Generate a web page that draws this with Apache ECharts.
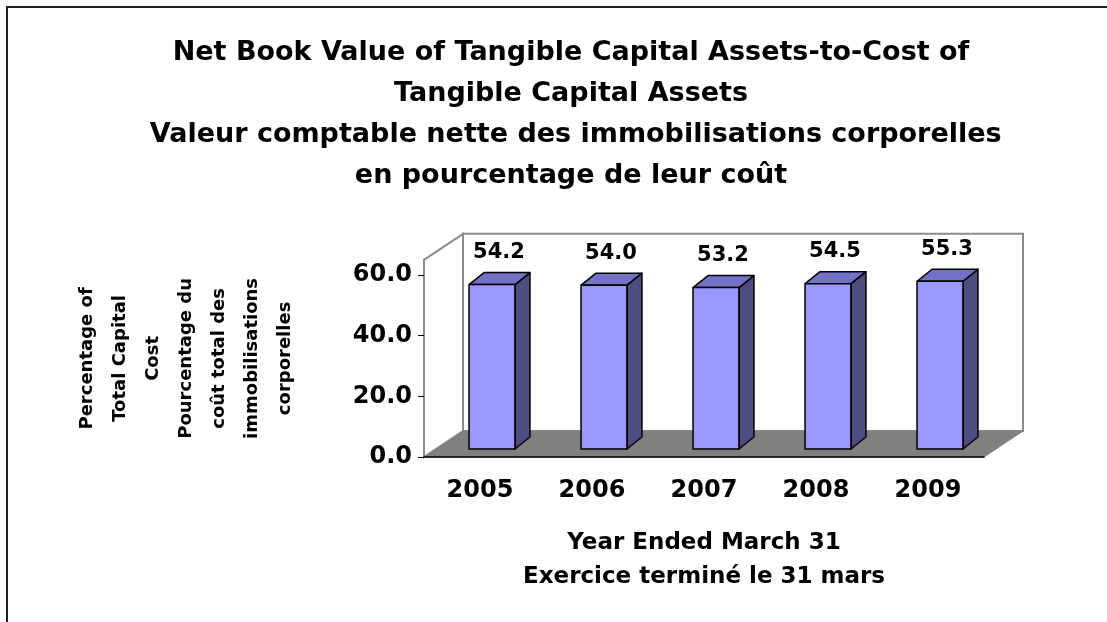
<html>
<head>
    <meta charset="utf-8" />
    <title>Net Book Value of Tangible Capital Assets</title>
    <script src="https://cdn.jsdelivr.net/npm/echarts@6/dist/echarts.min.js"></script>
    <style>
        body { margin: 0; background: #fff; }
        #chart { width: 1107px; height: 622px; }
    </style>
</head>
<body>
<div id="chart"></div>
<script type="text/javascript">
    var years = ['2005', '2006', '2007', '2008', '2009'];
    var ratios = [54.2, 54.0, 53.2, 54.5, 55.3];
    var valueTicks = [0, 20, 40, 60];

    var FONT = '"DejaVu Sans", Arial, sans-serif';
    // depth of the floor / walls (back-right offset)
    var DEPTH_X = 39, DEPTH_Y = -26;

    var chart = echarts.init(document.getElementById('chart'));

    // walls + floor drawn from the grid rect
    function renderWalls(params, api) {
        var cs = params.coordSys;
        var x0 = cs.x, x1 = cs.x + cs.width;
        var yt = cs.y, yb = cs.y + cs.height;
        return {
            type: 'group',
            children: [
                {
                    type: 'polygon',
                    shape: { points: [[x0 + DEPTH_X, yt + DEPTH_Y], [x1 + DEPTH_X, yt + DEPTH_Y], [x1 + DEPTH_X, yb + DEPTH_Y], [x0 + DEPTH_X, yb + DEPTH_Y]] },
                    style: { fill: '#fff', stroke: '#8c8c8c', lineWidth: 2 }
                },
                {
                    type: 'polygon',
                    shape: { points: [[x0, yb], [x0, yt], [x0 + DEPTH_X, yt + DEPTH_Y], [x0 + DEPTH_X, yb + DEPTH_Y]] },
                    style: { fill: '#fff', stroke: '#8c8c8c', lineWidth: 2 }
                },
                {
                    type: 'polygon',
                    shape: { points: [[x0, yb], [x0 + DEPTH_X, yb + DEPTH_Y], [x1 + DEPTH_X, yb + DEPTH_Y], [x1, yb]] },
                    style: { fill: '#808080', stroke: '#808080', lineWidth: 1 }
                }
            ]
        };
    }

    function renderBar(params, api) {
        var idx = api.value(0);
        var val = api.value(1);
        var base = api.coord([idx, 0]);
        var top = api.coord([idx, val]);
        var band = api.size([1, 0])[0];
        var w = band * 0.41;
        var offX = 12, offY = -8;   // bar sits a bit behind the front plane
        var dX = 15, dY = -12;      // bar depth
        var left = base[0] - w / 2 + offX;
        var right = left + w;
        var yb = base[1] + offY;
        var yt = top[1] + offY;
        var lineStyle = { stroke: '#000', lineWidth: 1.5, lineJoin: 'round' };
        return {
            type: 'group',
            children: [
                {
                    type: 'polygon',
                    shape: { points: [[right, yb], [right, yt], [right + dX, yt + dY], [right + dX, yb + dY]] },
                    style: Object.assign({ fill: '#4d4d80' }, lineStyle)
                },
                {
                    type: 'polygon',
                    shape: { points: [[left, yt], [left + dX, yt + dY], [right + dX, yt + dY], [right, yt]] },
                    style: Object.assign({ fill: '#7171c6' }, lineStyle)
                },
                {
                    type: 'rect',
                    shape: { x: left, y: yt, width: w, height: yb - yt },
                    style: Object.assign({ fill: '#9999ff' }, lineStyle)
                },
                {
                    type: 'text',
                    x: base[0] + 19,
                    y: yt - 32,
                    style: {
                        text: val.toFixed(1),
                        fill: '#000',
                        font: 'bold 21px ' + FONT,
                        align: 'center',
                        verticalAlign: 'middle'
                    }
                }
            ]
        };
    }

    var option = {
        backgroundColor: '#fff',
        animation: false,
        title: {
            text: 'Net Book Value of Tangible Capital Assets-to-Cost of\nTangible Capital Assets\n Valeur comptable nette des immobilisations corporelles\nen pourcentage de leur coût',
            left: 566,
            top: 27,
            textAlign: 'center',
            textStyle: {
                fontFamily: FONT,
                fontWeight: 'bold',
                fontSize: 27,
                lineHeight: 41,
                color: '#000'
            }
        },
        graphic: [
            {
                type: 'rect',
                shape: { x: 7, y: 7, width: 1200, height: 700 },
                style: { fill: null, stroke: '#222', lineWidth: 2 },
                silent: true
            }
        ],
        grid: {
            left: 424,
            right: 123,
            top: 259.8,
            bottom: 165
        },
        xAxis: {
            type: 'category',
            data: years,
            axisLine: { lineStyle: { color: '#000', width: 1.5 } },
            axisTick: { length: 6, lineStyle: { color: '#000' } },
            axisLabel: {
                margin: 22,
                color: '#000',
                fontFamily: FONT,
                fontWeight: 'bold',
                fontSize: 24
            },
            name: 'Year Ended March 31\nExercice terminé le 31 mars',
            nameLocation: 'middle',
            nameGap: 69,
            nameTextStyle: {
                color: '#000',
                fontFamily: FONT,
                fontWeight: 'bold',
                fontSize: 23,
                lineHeight: 34
            }
        },
        yAxis: {
            type: 'value',
            min: 0,
            max: 65,
            interval: 20,
            splitLine: { show: false },
            axisLine: { show: true, lineStyle: { color: '#8c8c8c', width: 2 } },
            axisTick: { show: true, length: 6, customValues: valueTicks, lineStyle: { color: '#000' } },
            axisLabel: {
                customValues: valueTicks,
                margin: 12,
                color: '#000',
                fontFamily: FONT,
                fontWeight: 'bold',
                fontSize: 24,
                formatter: function (v) { return v.toFixed(1); }
            },
            name: 'Percentage of\nTotal Capital\nCost\nPourcentage du\ncoût total des\nimmobilisations\ncorporelles',
            nameLocation: 'middle',
            nameRotate: 90,
            nameGap: 238,
            nameTextStyle: {
                color: '#000',
                fontFamily: FONT,
                fontWeight: 'bold',
                fontSize: 18,
                lineHeight: 33,
                align: 'center',
                verticalAlign: 'middle'
            }
        },
        series: [
            {
                type: 'custom',
                z: -1,
                silent: true,
                renderItem: renderWalls,
                data: [[0, 0]]
            },
            {
                type: 'custom',
                z: 3,
                renderItem: renderBar,
                data: ratios.map(function (v, i) { return [i, v]; })
            }
        ]
    };
    chart.setOption(option);
</script>
</body>
</html>
